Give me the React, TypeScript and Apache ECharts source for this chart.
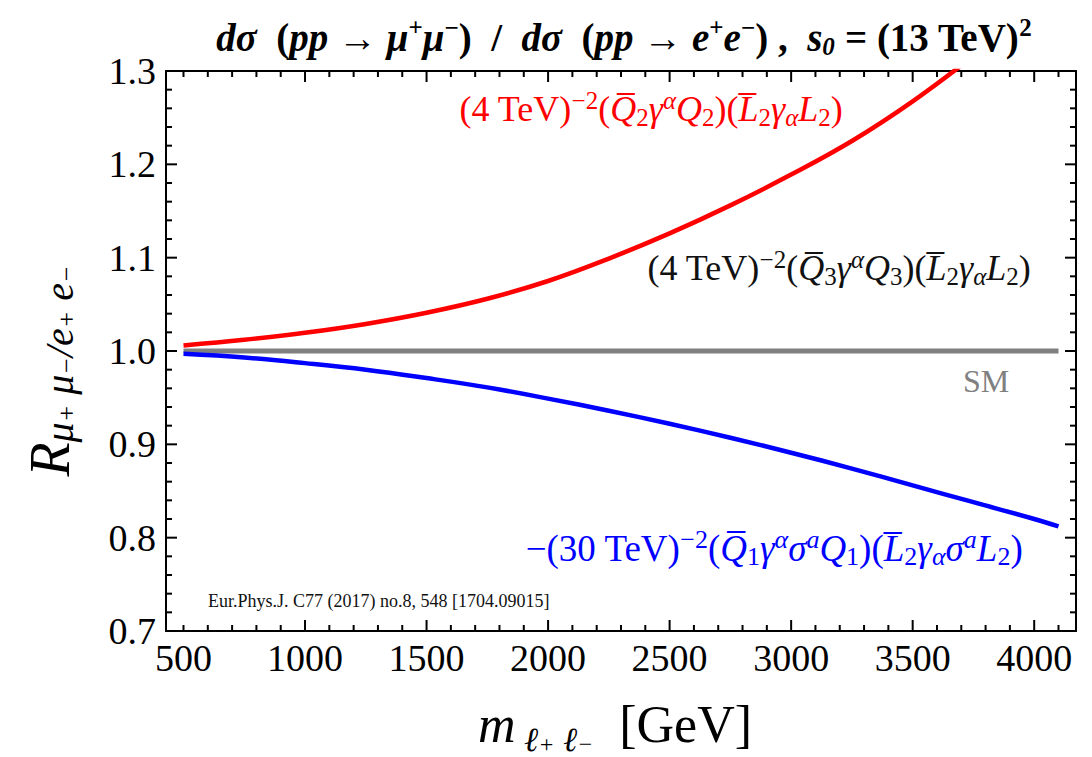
import React, { useEffect, useRef } from "react";
import * as echarts from "echarts";

// ---- data ----
const redMass = [500, 750, 1000, 1250, 1500, 1750, 2000, 2250, 2500, 2750, 3000, 3250, 3500, 3750];
const redRatio = [1.006, 1.012, 1.0195, 1.029, 1.041, 1.056, 1.075, 1.099, 1.126, 1.156, 1.189, 1.225, 1.2675, 1.316];

const blueMass = [500, 750, 1000, 1250, 1500, 1750, 2000, 2250, 2500, 2750, 3000, 3250, 3500, 3750, 4000, 4100];
const blueRatio = [0.997, 0.993, 0.987, 0.98, 0.971, 0.961, 0.949, 0.936, 0.922, 0.907, 0.891, 0.874, 0.856, 0.838, 0.82, 0.812];

const smMass = [500, 4100];
const smRatio = [1.0, 1.0];

const xTickLabels = [500, 1000, 1500, 2000, 2500, 3000, 3500, 4000];
const xMajorTicks = [1000, 1500, 2000, 2500, 3000, 3500, 4000];
const xMinorTicks = [500, 600, 700, 800, 900, 1100, 1200, 1300, 1400, 1600, 1700, 1800, 1900, 2100, 2200, 2300, 2400, 2600, 2700, 2800, 2900, 3100, 3200, 3300, 3400, 3600, 3700, 3800, 3900, 4100];
const yTickLabels = [0.7, 0.8, 0.9, 1.0, 1.1, 1.2, 1.3];
const yMajorTicks = [0.8, 0.9, 1.0, 1.1, 1.2];
const yMinorTicks = [0.72, 0.74, 0.76, 0.78, 0.82, 0.84, 0.86, 0.88, 0.92, 0.94, 0.96, 0.98, 1.02, 1.04, 1.06, 1.08, 1.12, 1.14, 1.16, 1.18, 1.22, 1.24, 1.26, 1.28];

const X_MIN = 428;
const X_MAX = 4172;
const Y_MIN = 0.7;
const Y_MAX = 1.3;

const SERIF = "'Liberation Serif', 'DejaVu Serif', serif";

function pairs(xs: number[], ys: number[]) {
  return xs.map((x, i) => [x, ys[i]]);
}

function mathRich(color: string, size: number, small: number) {
  const base = { fontFamily: SERIF, fill: color, fontSize: size, lineHeight: size + 6 };
  const sm = { fontFamily: SERIF, fill: color, fontSize: small, lineHeight: small - 4 };
  return {
    n: { ...base },
    i: { ...base, fontStyle: "italic" },
    sup: { ...sm, verticalAlign: "top" },
    supi: { ...sm, fontStyle: "italic", verticalAlign: "top" },
    sub: { ...sm, verticalAlign: "bottom" },
    subi: { ...sm, fontStyle: "italic", verticalAlign: "bottom" },
  };
}

function xAxisDef(position: string, labels: boolean) {
  return {
    type: "value",
    gridIndex: 0,
    position,
    min: X_MIN,
    max: X_MAX,
    axisLine: { show: true, onZero: false, lineStyle: { color: "#000", width: 2 } },
    axisTick: { show: false },
    axisLabel: labels
      ? { show: true, customValues: xTickLabels, fontSize: 38, fontFamily: SERIF, color: "#000", margin: 8, formatter: (v: number) => String(Math.round(v)) }
      : { show: false },
    splitLine: { show: false },
    minorTick: { show: false },
  };
}

function yAxisDef(position: string, labels: boolean) {
  return {
    type: "value",
    gridIndex: 0,
    position,
    min: Y_MIN,
    max: Y_MAX,
    axisLine: { show: true, onZero: false, lineStyle: { color: "#000", width: 2 } },
    axisTick: { show: false },
    axisLabel: labels
      ? { show: true, customValues: yTickLabels, fontSize: 38, fontFamily: SERIF, color: "#000", margin: 10, formatter: (v: number) => v.toFixed(1) }
      : { show: false },
    splitLine: { show: false },
    minorTick: { show: false },
  };
}

// inward frame ticks on all four sides, positioned through the axes' scales
function tickSeries(name: string, values: number[], dir: "x" | "y", len: number) {
  return {
    name,
    type: "custom",
    coordinateSystem: "cartesian2d",
    xAxisIndex: 0,
    yAxisIndex: 0,
    data: values.map((v) => (dir === "x" ? [v, Y_MIN] : [X_MIN, v])),
    clip: false,
    silent: true,
    z: 6,
    renderItem: (_p: any, api: any) => {
      const style = { stroke: "#000", lineWidth: 2 };
      if (dir === "x") {
        const v = api.value(0);
        const b = api.coord([v, Y_MIN]);
        const t = api.coord([v, Y_MAX]);
        return {
          type: "group",
          children: [
            { type: "line", shape: { x1: b[0], y1: b[1], x2: b[0], y2: b[1] - len }, style },
            { type: "line", shape: { x1: t[0], y1: t[1], x2: t[0], y2: t[1] + len }, style },
          ],
        };
      }
      const v = api.value(1);
      const l = api.coord([X_MIN, v]);
      const r = api.coord([X_MAX, v]);
      return {
        type: "group",
        children: [
          { type: "line", shape: { x1: l[0], y1: l[1], x2: l[0] + len, y2: l[1] }, style },
          { type: "line", shape: { x1: r[0], y1: r[1], x2: r[0] - len, y2: r[1] }, style },
        ],
      };
    },
  };
}

export default function App() {
  const ref = useRef<HTMLDivElement | null>(null);

  useEffect(() => {
    if (!ref.current) return;
    const chart = echarts.init(ref.current, undefined, { renderer: "svg" });

    const titleRich = {
      b: { fontFamily: SERIF, fontWeight: "bold", fill: "#000", fontSize: 39, lineHeight: 44 },
      i: { fontFamily: SERIF, fontWeight: "bold", fontStyle: "italic", fill: "#000", fontSize: 39, lineHeight: 44 },
      sup: { fontFamily: SERIF, fontWeight: "bold", fill: "#000", fontSize: 25, lineHeight: 22, verticalAlign: "top" },
      sub: { fontFamily: SERIF, fontWeight: "bold", fontStyle: "italic", fill: "#000", fontSize: 25, lineHeight: 22, verticalAlign: "bottom" },
    };
    const titleText =
      "{i|dσ}{b|  (}{i|pp}{b| → }{i|μ}{sup|+}{i|μ}{sup|−}{b|)  /  }{i|dσ}{b|  (}{i|pp}{b| → }{i|e}{sup|+}{i|e}{sup|−}{b|) ,  }{i|s}{sub|0}{b| = (13 TeV)}{sup|2}";

    const redText =
      "{n|(4 TeV)}{sup|−2}{n|(}{i|Q\u0305}{sub|2}{i|γ}{supi|α}{i|Q}{sub|2}{n|)(}{i|L\u0305}{sub|2}{i|γ}{subi|α}{i|L}{sub|2}{n|)}";
    const blackText =
      "{n|(4 TeV)}{sup|−2}{n|(}{i|Q\u0305}{sub|3}{i|γ}{supi|α}{i|Q}{sub|3}{n|)(}{i|L\u0305}{sub|2}{i|γ}{subi|α}{i|L}{sub|2}{n|)}";
    const blueText =
      "{n|−(30 TeV)}{sup|−2}{n|(}{i|Q\u0305}{sub|1}{i|γ}{supi|α}{i|σ}{supi|a}{i|Q}{sub|1}{n|)(}{i|L\u0305}{sub|2}{i|γ}{subi|α}{i|σ}{supi|a}{i|L}{sub|2}{n|)}";

    const yTitleRich = {
      R: { fontFamily: SERIF, fontStyle: "italic", fill: "#000", fontSize: 56, lineHeight: 58 },
      s: { fontFamily: SERIF, fontStyle: "italic", fill: "#000", fontSize: 40, lineHeight: 40, verticalAlign: "bottom" },
      ss: { fontFamily: SERIF, fontStyle: "italic", fill: "#000", fontSize: 26, lineHeight: 56, verticalAlign: "bottom" },
    };
    const yTitleText = "{R|R}{s|μ}{ss|+}{s| μ}{ss|−}{s|/}{s|e}{ss|+}{s| e}{ss|−}";

    const xTitleRich = {
      m: { fontFamily: SERIF, fontStyle: "italic", fill: "#000", fontSize: 52, lineHeight: 54 },
      s: { fontFamily: SERIF, fontStyle: "italic", fill: "#000", fontSize: 34, lineHeight: 40, verticalAlign: "bottom" },
      ss: { fontFamily: SERIF, fontStyle: "italic", fill: "#000", fontSize: 24, lineHeight: 64, verticalAlign: "bottom" },
      g: { fontFamily: SERIF, fill: "#000", fontSize: 52, lineHeight: 54 },
    };
    const xTitleText = "{m|m}{s| ℓ}{ss|+}{s| ℓ}{ss|−}{g|  [GeV]}";

    const texts: any[] = [
      { type: "text", x: 624, y: 37, style: { text: titleText, rich: titleRich, align: "center", verticalAlign: "middle", fill: "#000" } },
      { type: "text", x: 651, y: 109, z: 10, style: { text: redText, rich: mathRich("#ff0000", 36, 25), align: "center", verticalAlign: "middle", fill: "#ff0000" } },
      { type: "text", x: 839, y: 268, z: 10, style: { text: blackText, rich: mathRich("#111111", 36, 25), align: "center", verticalAlign: "middle", fill: "#111111" } },
      { type: "text", x: 774, y: 548, z: 10, style: { text: blueText, rich: mathRich("#0000ff", 37, 26), align: "center", verticalAlign: "middle", fill: "#0000ff" } },
      { type: "text", x: 986, y: 381, z: 10, style: { text: "SM", fontFamily: SERIF, fontSize: 32, fill: "#808080", align: "center", verticalAlign: "middle" } },
      {
        type: "text",
        x: 208,
        y: 601,
        z: 10,
        style: { text: "Eur.Phys.J. C77 (2017) no.8, 548 [1704.09015]", fontFamily: SERIF, fontSize: 18, fill: "#111111", align: "left", verticalAlign: "middle" },
      },
      { type: "text", x: 615, y: 724, style: { text: xTitleText, rich: xTitleRich, align: "center", verticalAlign: "middle", fill: "#000" } },
      { type: "text", x: 50, y: 371, rotation: Math.PI / 2, style: { text: yTitleText, rich: yTitleRich, align: "center", verticalAlign: "middle", fill: "#000" } },
    ];

    const option = {
      animation: false,
      backgroundColor: "#fff",
      grid: { left: 166, right: 16, top: 71, bottom: 126, containLabel: false, outerBoundsMode: "none" },
      xAxis: [xAxisDef("bottom", true), xAxisDef("top", false)],
      yAxis: [yAxisDef("left", true), yAxisDef("right", false)],
      series: [
        { name: "SM", type: "line", xAxisIndex: 0, yAxisIndex: 0, data: pairs(smMass, smRatio), symbol: "none", lineStyle: { color: "#808080", width: 5 }, z: 2 },
        { name: "Q2", type: "line", xAxisIndex: 0, yAxisIndex: 0, data: pairs(redMass, redRatio), symbol: "none", smooth: 0.4, clip: true, lineStyle: { color: "#ff0000", width: 4.5 }, z: 3 },
        { name: "Q1", type: "line", xAxisIndex: 0, yAxisIndex: 0, data: pairs(blueMass, blueRatio), symbol: "none", smooth: 0.4, clip: true, lineStyle: { color: "#0000ff", width: 4.5 }, z: 3 },
        tickSeries("xMajor", xMajorTicks, "x", 11),
        tickSeries("xMinor", xMinorTicks, "x", 6),
        tickSeries("yMajor", yMajorTicks, "y", 11),
        tickSeries("yMinor", yMinorTicks, "y", 6),
      ],
      graphic: texts,
    };

    chart.setOption(option as any);
    return () => {
      chart.dispose();
    };
  }, []);

  return <div ref={ref} style={{ position: "absolute", left: 0, top: 0, width: 1092, height: 757, background: "#fff" }} />;
}
